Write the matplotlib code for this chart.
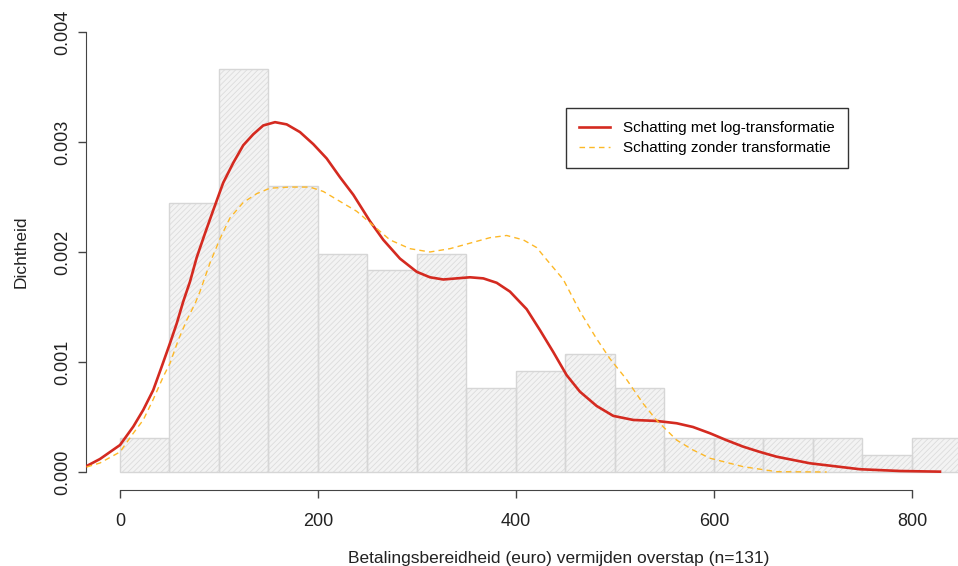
import matplotlib
matplotlib.use("Agg")
import matplotlib.pyplot as plt
import numpy as np

plt.rcParams['font.family'] = ['Liberation Sans', 'DejaVu Sans']
plt.rcParams['hatch.linewidth'] = 0.6

# histogram: bin edges and counts (n=131)
bin_edges = [0, 50, 100, 150, 200, 250, 300, 350, 400, 450, 500,
             550, 600, 650, 700, 750, 800, 850]
counts = [2, 16, 24, 17, 13, 12, 13, 5, 6, 7, 5, 2, 2, 2, 2, 1, 2]
n = 131

# density estimate with log-transformation
log_x = [-33.6, -20.2, 0, 13.4, 23.5, 33.6, 42.1, 50.5, 57.3, 63.9, 70.7,
         77.5, 85.9, 94.2, 104.3, 114.4, 124.5, 134.6, 144.7, 156.6, 168.4,
         181.8, 195.3, 208.8, 222.2, 235.7, 252.5, 266, 282.8, 299.7, 313.1,
         326.6, 353.5, 367, 380.5, 393.9, 410.8, 424.2, 437.7, 451.2, 464.6,
         481.5, 498.3, 518.5, 542.1, 562.3, 578.8, 596, 612.1, 629.6, 646.5,
         663.3, 697, 747.5, 787.9, 828.3]
log_y = [0.0000545, 0.000118, 0.000245, 0.000412, 0.000564, 0.000745,
         0.000957, 0.00117, 0.00135, 0.00155, 0.00173, 0.00195, 0.00217,
         0.00238, 0.00263, 0.00281, 0.00297, 0.00307, 0.00315, 0.00318,
         0.00316, 0.00309, 0.00298, 0.00285, 0.00268, 0.00252, 0.00228,
         0.00211, 0.00194, 0.00182, 0.00177, 0.00175, 0.00177, 0.00176,
         0.00172, 0.00164, 0.00148, 0.00129, 0.00109, 0.00088, 0.00073,
         0.0006, 0.00051, 0.000473, 0.000464, 0.000443, 0.000409, 0.000352,
         0.000291, 0.00023, 0.000182, 0.000139, 0.000079, 0.000025,
         0.000009, 0.000003]

# density estimate without transformation
raw_x = [-33.6, -20.2, 0, 13.4, 23.5, 33.6, 43.7, 50.5, 58.9, 67.4, 75.8,
         80.8, 90.9, 101, 111.1, 124.5, 138.1, 151.5, 171.7, 191.9, 205.4,
         222.2, 239.1, 255.9, 272.7, 292.9, 313.1, 333.3, 353.5, 373.7,
         390.6, 407.4, 420.9, 431, 447.8, 464.6, 481.5, 494.9, 511.8, 528.6,
         542.1, 562.3, 578.8, 596, 629.6, 663.3, 713.9]
raw_y = [0.0000455, 0.0000818, 0.000182, 0.000352, 0.000473, 0.00066,
         0.000866, 0.000988, 0.0012, 0.00138, 0.00153, 0.00164, 0.0019,
         0.00212, 0.00231, 0.00245, 0.00253, 0.00258, 0.00259, 0.00259,
         0.00255, 0.00246, 0.00237, 0.00224, 0.00211, 0.00203, 0.002,
         0.00203, 0.00208, 0.00213, 0.00215, 0.00211, 0.00204, 0.00193,
         0.00175, 0.00146, 0.00121, 0.00103, 0.00084, 0.00062, 0.00047,
         0.00029, 0.0002, 0.000125, 0.0000482, 0.0000027, 0.0]

density = np.array(counts) / (n * 50.0)

fig = plt.figure(figsize=(9.58, 5.66), dpi=100)
ax = fig.add_axes([0.0898, 0.135, 0.9102, 0.8396])

left = np.array(bin_edges[:-1])
widths = np.diff(bin_edges)
# hatched fill
ax.bar(left, density, width=widths, align='edge', color='#f3f3f3',
       edgecolor='#dcdcdc', hatch='//////', linewidth=0, zorder=1)
# bar outlines
ax.bar(left, density, width=widths, align='edge', fill=False,
       edgecolor='#d6d6d6', linewidth=1.0, zorder=2)

ax.plot(log_x, log_y, color='#d42a20', linewidth=1.9, zorder=3,
        label='Schatting met log-transformatie')
ax.plot(raw_x, raw_y, color='#fdb827', linewidth=1.0, linestyle=(0, (4, 3)),
        zorder=3, label='Schatting zonder transformatie')

ax.set_xlim(-34.3, 846.5)
ax.set_ylim(-0.00016, 0.00416)

for s in ['top', 'right']:
    ax.spines[s].set_visible(False)
ax.spines['left'].set_bounds(0, 0.004)
ax.spines['bottom'].set_bounds(0, 800)
ax.spines['left'].set_color('#444444')
ax.spines['bottom'].set_color('#444444')

ax.set_xticks([0, 200, 400, 600, 800])
ax.set_yticks([0, 0.001, 0.002, 0.003, 0.004])
ax.set_yticklabels(['0.000', '0.001', '0.002', '0.003', '0.004'],
                   rotation=90, va='center')
ax.tick_params(axis='both', length=6, width=1, color='#444444',
               labelsize=13, labelcolor='#222222')
ax.tick_params(axis='x', pad=11)
ax.tick_params(axis='y', pad=5)

ax.set_xlabel('Betalingsbereidheid (euro) vermijden overstap (n=131)',
              fontsize=12.5, color='#222222')
ax.xaxis.set_label_coords(0.5424, -0.129)
ax.set_ylabel('Dichtheid', fontsize=12.5, color='#222222', labelpad=18)

leg = ax.legend(loc='upper left', bbox_to_anchor=(0.5505, 0.803),
                fontsize=11, frameon=True, fancybox=False,
                edgecolor='black', handlelength=2.0, handletextpad=0.9,
                borderpad=0.85, labelspacing=0.4, borderaxespad=0)
leg.get_frame().set_linewidth(1.0)

fig.savefig('out.png', dpi=100)
